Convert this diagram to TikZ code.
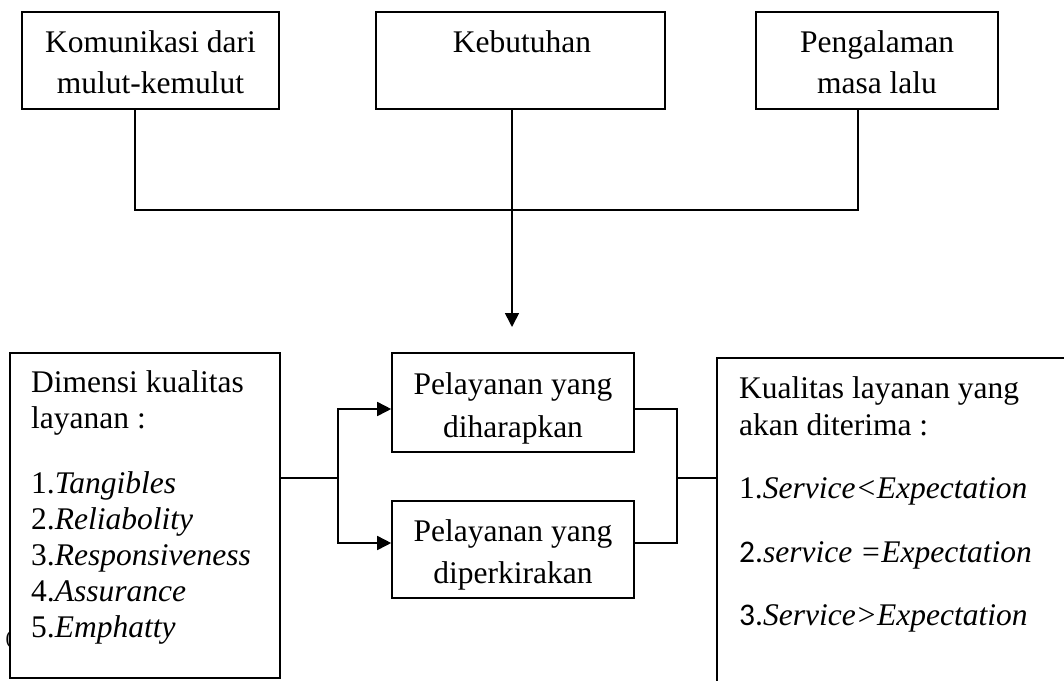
\documentclass[tikz,border=0pt]{standalone}
\usepackage{fontspec}
\setmainfont{Liberation Serif}
\newfontfamily\carl{Carlito}
\usetikzlibrary{arrows.meta,calc}
\begin{document}
\begin{tikzpicture}[x=1pt,y=-1pt,
  box/.style={draw,line width=1.6pt,fill=white,inner sep=0pt},
  txt/.style={inner sep=0pt,align=center},
  ltxt/.style={inner sep=0pt,align=left},
  conn/.style={line width=1.6pt},
  arr/.style={line width=1.6pt,-{Triangle[length=14pt,width=14pt]}},
  big/.style={font=\fontsize{31.5}{#1}\selectfont}
]
\useasboundingbox (0,0) rectangle (1064,680);
% stray glyph behind the left box
\node[inner sep=0pt,font=\fontsize{20}{24}\selectfont] (stray) at (9,640) {(};
% top boxes
\node[box,minimum width=257pt,minimum height=97pt] (k1) at (150.5,60.5) {};
\node[box,minimum width=289pt,minimum height=97pt] (k2) at (520.5,60.5) {};
\node[box,minimum width=242pt,minimum height=97pt] (k3) at (877,60.5) {};
\node[txt,big=41pt,anchor=north] (t1) at (150.5,30) {Komunikasi dari\\mulut-kemulut};
\node[txt,big=41pt,anchor=north] (t2) at (522,30) {Kebutuhan};
\node[txt,big=41pt,anchor=north] (t3) at (877,30) {Pengalaman\\masa lalu};
% middle boxes
\node[box,minimum width=242pt,minimum height=99pt] (harap) at (513,402.5) {};
\node[box,minimum width=242pt,minimum height=97pt] (perkira) at (513,549.5) {};
\node[txt,big=43pt,anchor=north] (th) at (513,372) {Pelayanan yang\\diharapkan};
\node[txt,big=42pt,anchor=north] (tp) at (513,519) {Pelayanan yang\\diperkirakan};
% left box
\node[box,minimum width=270pt,minimum height=325pt] (dim) at (145,515.5) {};
\node[ltxt,big=36pt,anchor=north west] (tdim) at (31,370) {Dimensi kualitas\\layanan :\\[29pt]1.\textit{Tangibles}\\2.\textit{Reliabolity}\\3.\textit{Responsiveness}\\4.\textit{Assurance}\\5.\textit{Emphatty}};
% right box (extends past the page edge)
\node[box,minimum width=383pt,minimum height=362pt] (terima) at (908.5,539) {};
\node[ltxt,big=37pt,anchor=north west] (tter) at (739,376) {Kualitas layanan yang\\akan diterima :\\[26pt]1.\textit{Service<Expectation}\\[27pt]{\carl 2.}\textit{service =Expectation}\\[26pt]{\carl 3.}\textit{Service>Expectation}};
% connectors
\coordinate (j1) at (135,210);
\coordinate (j3) at (858,210);
\coordinate (tip) at (512,327);
\draw[conn] (k1.south -| j1) -- (j1) -- (j3) -- (k3.south -| j3);
\draw[arr] (k2.south -| tip) -- (tip);
\coordinate (ls) at (338,478);
\draw[conn] (dim.east |- ls) -- (ls);
\draw[arr] (ls) |- ($(harap.west)+(0,6.5)$);
\draw[arr] (ls) |- ($(perkira.west)+(0,-6.5)$);
\coordinate (rs) at (677,478);
\draw[conn] ($(harap.east)+(0,6.5)$) -| (rs) |- ($(perkira.east)+(0,-6.5)$);
\draw[conn] (rs) -- (terima.west |- rs);
\end{tikzpicture}
\end{document}
